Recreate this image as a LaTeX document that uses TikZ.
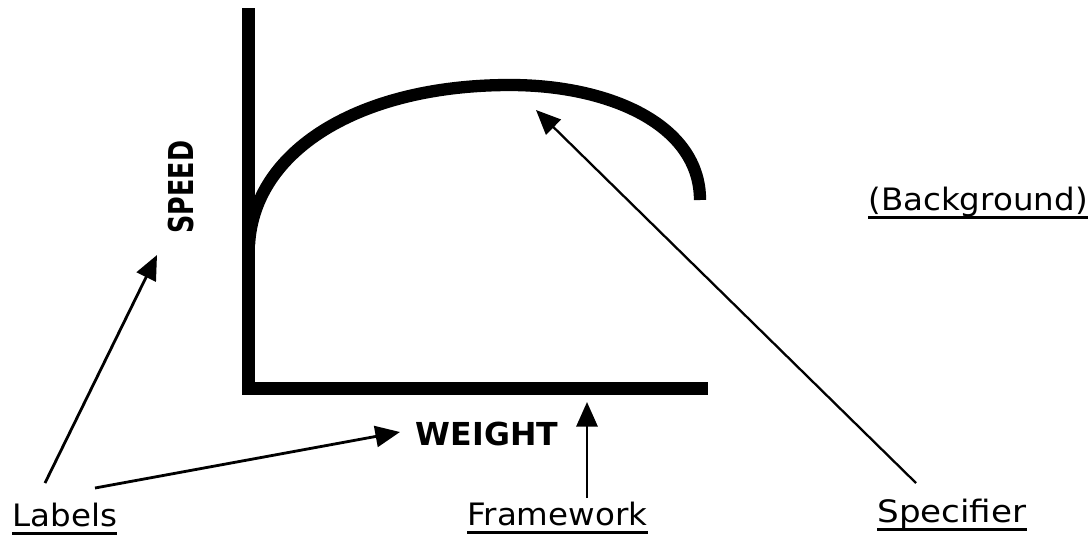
\documentclass[tikz,border=0pt]{standalone}
\usepackage{fontspec}
\setmainfont{DejaVu Sans}
\usetikzlibrary{arrows.meta}
\tikzset{
  axisline/.style={line width=7.4pt, line join=miter},
  curveline/.style={line width=7pt, line cap=butt},
  pointer/.style={line width=1.6pt, -{Triangle[length=14pt,width=12pt]}},
  lbl/.style={inner sep=0pt, anchor=base west, font=\fontsize{18.5pt}{20pt}\selectfont},
  ulrule/.style={line width=1.3pt},
  axlbl/.style={inner sep=0pt, font=\bfseries\fontsize{18pt}{20pt}\selectfont}
}
\begin{document}
\begin{tikzpicture}[x=0.02cm, y=-0.02cm]
\useasboundingbox (0,0) rectangle (1089,542);
% axes
\draw[axisline] (248,8) -- (248,388) -- (708,388);
% curve
\draw[curveline] (249,245) .. controls (254,150) and (360,85) .. (510,85)
  .. controls (610,85) and (700,125) .. (700,200);
% axis labels
\node[axlbl, rotate=90] (speed) at (181,187) {\scalebox{0.74}[1]{\fontsize{19.5pt}{21pt}\selectfont SPEED}};
\node[axlbl, anchor=base] (weight) at (487,445) {WEIGHT};
% labels
\node[lbl] (labels) at (12,526) {\scalebox{1}[0.95]{Labels}};
\node[lbl] (framework) at (467,525) {\scalebox{1}[0.95]{Framework}};
\node[lbl] (specifier) at (877,522) {\scalebox{1.05}[0.95]{Specifier}};
\node[lbl] (background) at (868,210) {\scalebox{1}[0.95]{(Background)}};
\foreach \n in {labels,framework,specifier,background}
  \draw[ulrule] ([yshift=-4.2pt]\n.base west) -- ([yshift=-4.2pt]\n.base east);
% connector endpoints
\coordinate (l1) at (45,483);
\coordinate (l2) at (95,488);
\coordinate (s1) at (157,255);
\coordinate (w1) at (400,432);
\coordinate (f0) at (587,498);
\coordinate (f1) at (587,402);
\coordinate (p0) at (916,483);
\coordinate (p1) at (536,110);
\draw[pointer] (l1) -- (s1);
\draw[pointer] (l2) -- (w1);
\draw[pointer] (f0) -- (f1);
\draw[pointer, line width=1.3pt] (p0) -- (p1);
\end{tikzpicture}
\end{document}
